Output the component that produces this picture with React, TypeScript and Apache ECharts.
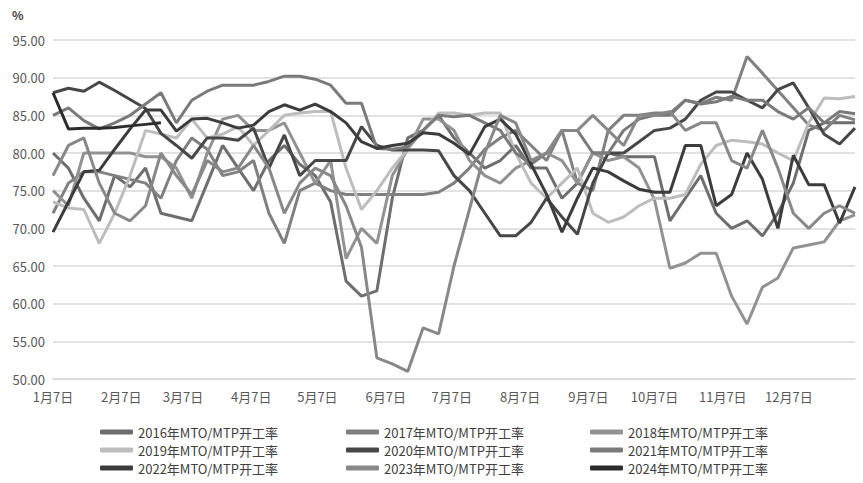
import React, { useEffect, useRef } from "react";
import * as echarts from "echarts";

// Month tick labels and their day offsets from 1月7日
const monthLabels = ["1月7日", "2月7日", "3月7日", "4月7日", "5月7日", "6月7日", "7月7日", "8月7日", "9月7日", "10月7日", "11月7日", "12月7日"];
const monthDays = [0, 31, 59, 90, 120, 151, 181, 212, 243, 273, 304, 334];

// Weekly operating rates (%), one point per week from 1月7日
const s2016 = [80, 78, 74, 71, 77, 75.5, 78, 72, 71.5, 71, 76, 81, 78, 75, 79, 81, 78.5, 77, 73.5, 63, 61, 61.7, 74, 82, 83, 85, 82, 80, 78, 79, 81, 78, 78, 74, 76, 80, 80, 79.5, 79.5, 79.5, 71, 74, 77, 72, 70, 71, 69, 72, 76, 83, 84, 84, 84];
const s2017 = [72, 76, 77.5, 77.5, 77, 76.5, 76, 74, 79, 82, 80.5, 77, 77.5, 79, 72, 68, 75, 76, 75, 74.5, 74.5, 74.5, 74.5, 74.5, 74.5, 74.8, 76, 78, 80.5, 82, 83, 81, 79, 83, 76, 75, 83, 85, 85, 85.3, 85.3, 87, 86.6, 87.4, 87, 92.8, 90.6, 88.3, 86, 83.7, 83, 85, 84.4];
const s2018 = [75, 73, 80, 80, 80, 80, 79.5, 79.5, 78, 74, 80, 84.5, 85, 83, 83, 84, 80, 76, 79, 66, 70, 68, 77, 80.5, 84.5, 84.5, 83, 79, 77, 76, 78, 79, 80, 79, 76, 80, 79, 79.5, 78, 73.8, 64.7, 65.4, 66.7, 66.7, 61, 57.3, 62.2, 63.4, 67.4, 67.8, 68.2, 71, 71.8];
const s2019 = [73.5, 72.7, 72.5, 68, 72, 77, 83, 82.5, 82, 84.5, 82, 82.5, 83.5, 81, 83, 85, 85.3, 85.5, 85.5, 78, 72.5, 75, 78, 80.5, 83, 85.3, 85.3, 85, 85.3, 85.3, 80, 76, 74, 76, 78, 72, 70.8, 71.5, 73, 74, 74, 74.5, 78.5, 81, 81.7, 81.5, 81.2, 80, 79, 84, 87.3, 87.2, 87.5];
const s2020 = [88, 88.6, 88.2, 89.4, 88.3, 87.1, 85.9, 82.6, 81, 79.3, 82, 82, 81.7, 83.3, 78, 82.4, 77, 79, 79, 79, 83.5, 81, 80.4, 80.4, 80.4, 80.3, 77, 75, 72, 69, 69, 70.8, 74, 71.5, 69.2, 76, 80, 80, 81.5, 83, 83.3, 84.5, 87, 88.1, 88.1, 87, 86, 88.4, 89.3, 86, 82.5, 81.2, 83.3];
const s2021 = [85, 86, 84.3, 83.2, 84, 85, 86.5, 88, 84, 87, 88.2, 89, 89, 89, 89.5, 90.2, 90.2, 89.8, 89, 86.6, 86.6, 80.6, 80.5, 80.8, 83, 85, 84.8, 85, 84, 83, 80, 78.5, 80, 83, 83, 80, 80, 83, 84.5, 85, 85, 87, 86.5, 86.8, 87.5, 87, 87, 85.5, 84.5, 86, 84, 85.5, 85.2];
const s2022 = [69.5, 73.5, 77.5, 77.7, 80.5, 83.2, 85.7, 85.7, 82.9, 84.5, 84.6, 84, 83.3, 83.7, 85.5, 86.4, 85.7, 86.5, 85.5, 84, 81.5, 80.6, 81, 81.3, 82.7, 82.5, 81.3, 79.8, 83.5, 84.5, 82.5, 78.5, 74.5, 69.5, 74, 78, 77.5, 76.3, 75.2, 74.8, 74.8, 81, 81, 73, 74.5, 80, 76.5, 70, 79.7, 75.8, 75.8, 70.7, 75.5];
const s2023 = [77, 81, 82, 76, 72, 71, 73, 80, 77, 74.5, 79, 77.5, 78, 81, 78, 72, 76, 78, 77, 73, 67.5, 52.8, 52, 51, 56.8, 56, 65, 72.5, 80, 85, 84, 79, 80, 83, 83, 85, 83, 81, 85, 85, 85.5, 83, 84, 84, 79, 78, 83, 78, 72, 70, 72, 73, 72];
const s2024 = [88, 83.2, 83.3, 83.3, 83.4, 83.6, 83.8, 84];

const seriesDefs = [
  { name: "2016年MTO/MTP开工率", data: s2016, color: "#6e6e6e" },
  { name: "2017年MTO/MTP开工率", data: s2017, color: "#808080" },
  { name: "2018年MTO/MTP开工率", data: s2018, color: "#929292" },
  { name: "2019年MTO/MTP开工率", data: s2019, color: "#bdbdbd" },
  { name: "2020年MTO/MTP开工率", data: s2020, color: "#474747" },
  { name: "2021年MTO/MTP开工率", data: s2021, color: "#7a7a7a" },
  { name: "2022年MTO/MTP开工率", data: s2022, color: "#3c3c3c" },
  { name: "2023年MTO/MTP开工率", data: s2023, color: "#888888" },
  { name: "2024年MTO/MTP开工率", data: s2024, color: "#2c2c2c" },
];

const FONT = "'Noto Sans CJK SC', 'Noto Sans', sans-serif";
const legendCols = [100, 346, 590];
const legendRows = [425, 443, 461];

export default function App() {
  const ref = useRef<HTMLDivElement>(null);
  useEffect(() => {
    if (!ref.current) return;
    const chart = echarts.init(ref.current, null, { renderer: "svg" });
    const legends = seriesDefs.map((s, i) => ({
      orient: "horizontal",
      left: legendCols[i % 3],
      top: legendRows[Math.floor(i / 3)],
      padding: 0,
      itemWidth: 33,
      itemHeight: 5,
      icon: "roundRect",
      data: [s.name],
      textStyle: { fontFamily: FONT, fontSize: 13, color: "#404040", lineHeight: 14 },
    }));
    chart.setOption({
      animation: false,
      backgroundColor: "#ffffff",
      grid: { left: 53, right: 8, top: 40, bottom: 104 },
      graphic: [
        { type: "text", left: 12, top: 8, style: { text: "%", fontSize: 12, fontWeight: "bold", fill: "#404040", fontFamily: FONT } },
      ],
      legend: legends,
      xAxis: {
        type: "value",
        min: 0,
        max: 364,
        splitLine: { show: false },
        axisLine: { show: true, lineStyle: { color: "#d9d9d9", width: 1.5 } },
        axisTick: { show: false },
        axisLabel: {
          customValues: monthDays,
          formatter: (v: number) => {
            const i = monthDays.indexOf(v);
            return i >= 0 ? monthLabels[i] : "";
          },
          margin: 11,
          fontSize: 13,
          color: "#595959",
          fontFamily: FONT,
        },
      },
      yAxis: {
        type: "value",
        min: 50,
        max: 95,
        interval: 5,
        axisLine: { show: false },
        axisTick: { show: false },
        splitLine: { lineStyle: { color: "#d9d9d9", width: 1.5 } },
        axisLabel: {
          formatter: (v: number) => v.toFixed(2),
          margin: 8,
          fontSize: 13,
          color: "#595959",
          fontFamily: FONT,
        },
      },
      series: seriesDefs.map((s) => ({
        type: "line",
        name: s.name,
        data: s.data.map((v, i) => [i * 7, v]),
        showSymbol: false,
        symbol: "none",
        color: s.color,
        lineStyle: { width: 3, color: s.color },
      })),
    });
    return () => chart.dispose();
  }, []);
  return <div ref={ref} style={{ position: "fixed", left: 0, top: 0, width: 863, height: 483 }} />;
}
